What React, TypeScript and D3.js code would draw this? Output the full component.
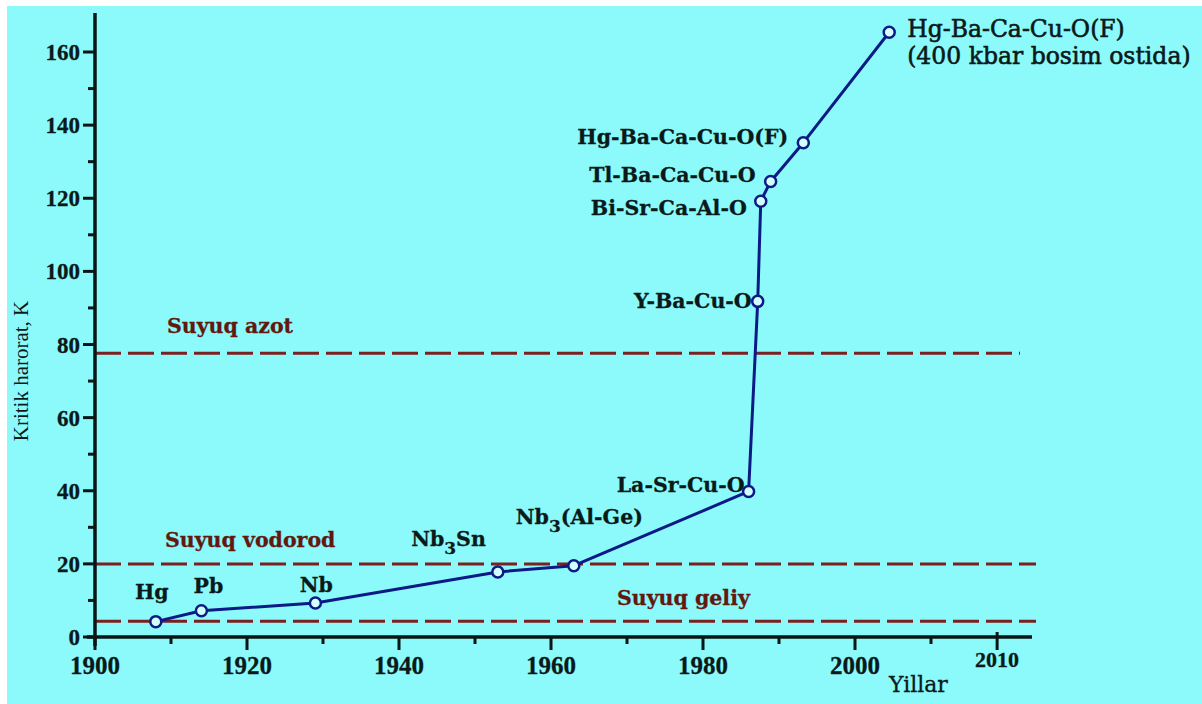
import React from "react";
import * as d3 from "d3";

// ---- data ----
const years = [1908, 1914, 1929, 1953, 1963, 1986, 1987.2, 1987.6, 1988.9, 1993.2, 2004.5];
const tcValues = [4.2, 7.2, 9.3, 17.8, 19.5, 39.8, 91.8, 119.2, 124.6, 135.2, 165.4];
const materials = [
  "Hg",
  "Pb",
  "Nb",
  "Nb_3Sn",
  "Nb_3(Al-Ge)",
  "La-Sr-Cu-O",
  "Y-Ba-Cu-O",
  "Bi-Sr-Ca-Al-O",
  "Tl-Ba-Ca-Cu-O",
  "Hg-Ba-Ca-Cu-O(F)",
  "Hg-Ba-Ca-Cu-O(F)|(400 kbar bosim ostida)",
];
const coolantNames = ["Suyuq azot", "Suyuq vodorod", "Suyuq geliy"];
const coolantTemps = [77.6, 20, 4.3];
const xTickValues = [1900, 1920, 1940, 1960, 1980, 2000, 2018.7];
const xTickLabels = ["1900", "1920", "1940", "1960", "1980", "2000", "2010"];
const xMinorTicks = [1910, 1930, 1950, 1970, 1990, 2010];
const yTickValues = [0, 20, 40, 60, 80, 100, 120, 140, 160];
const yMinorTicks = [10, 30, 50, 70, 90, 110, 130, 150];
const yTitle = "Kritik harorat, K";
const xTitle = "Yillar";

// ---- layout (positions / styles) ----
const W = 1202;
const H = 704;
const BG = "#8cfafa";
const AXIS = "#081616";
const LINE = "#0c1a86";
const DASH = "#7a2020";
const DASH_TEXT = "#62180f";
const TEXT = "#0a1a1a";
const LABEL_FONT = "'DejaVu Serif', serif";
const TICK_FONT = "'Liberation Serif', 'Times New Roman', serif";

// label offsets relative to each point: [dx, dy, anchor]
const labelLayout: [number, number, string][] = [
  [-4, -23, "middle"],
  [7, -18, "middle"],
  [1, -11, "middle"],
  [-12, -26, "end"],
  [-58, -42, "start"],
  [-4, 1, "end"],
  [-6, 7, "end"],
  [-14, 14, "end"],
  [-15, 1, "end"],
  [-15, 1, "end"],
  [18, 5, "start"],
];
const coolantLabelLayout: [number, number][] = [
  [167, -20],
  [165, -17],
  [617, -16],
];
const coolantEnd = [1020, 1036, 1036];

function renderName(name: string) {
  // "_3" => subscript 3
  const parts = name.split(/(_\d)/);
  return parts.map((p, i) =>
    p.startsWith("_") ? (
      <tspan key={i} dy={8} fontSize={17}>
        {p.slice(1)}
      </tspan>
    ) : i > 0 && parts[i - 1].startsWith("_") ? (
      <tspan key={i} dy={-8}>
        {p}
      </tspan>
    ) : (
      <tspan key={i}>{p}</tspan>
    )
  );
}

export default function App() {
  const x = d3.scaleLinear().domain([1900, 2000]).range([95, 855]);
  const y = d3.scaleLinear().domain([0, 160]).range([637, 52]);
  const x0 = x(1900);
  const y0 = y(0);

  const line = d3
    .line<number>()
    .x((_, i) => x(years[i]))
    .y((d) => y(d));

  return (
    <svg
      width={W}
      height={H}
      style={{ position: "absolute", left: 0, top: 0, display: "block" }}
    >
      <rect x={0} y={0} width={W} height={H} fill="#ffffff" />
      <rect x={7} y={6} width={W - 7} height={H - 6} fill={BG} />

      {/* coolant reference lines */}
      {coolantTemps.map((t, i) => (
        <g key={"c" + i}>
          <line
            x1={x0}
            x2={coolantEnd[i]}
            y1={y(t)}
            y2={y(t)}
            stroke={DASH}
            strokeWidth={3}
            strokeDasharray="26 7"
          />
          <text
            x={coolantLabelLayout[i][0]}
            y={y(t) + coolantLabelLayout[i][1]}
            fontFamily={LABEL_FONT}
            fontWeight="bold"
            fontSize={20.5}
            fill={DASH_TEXT}
            stroke={DASH_TEXT}
            strokeWidth={0.3}
          >
            {coolantNames[i]}
          </text>
        </g>
      ))}

      {/* axes */}
      <line x1={x0} x2={x0} y1={13} y2={646} stroke={AXIS} strokeWidth={3.5} />
      <line x1={87} x2={1032} y1={y0} y2={y0} stroke={AXIS} strokeWidth={3.5} />

      {yTickValues.map((v) => (
        <g key={"yt" + v}>
          <line x1={x0 - 12} x2={x0} y1={y(v)} y2={y(v)} stroke={AXIS} strokeWidth={3} />
          <text
            x={x0 - 15}
            y={y(v)}
            dy="0.35em"
            textAnchor="end"
            fontFamily={TICK_FONT}
            fontWeight="bold"
            fontSize={23}
            fill={TEXT}
            stroke={TEXT}
            strokeWidth={0.3}
          >
            {v}
          </text>
        </g>
      ))}
      {yMinorTicks.map((v) => (
        <line key={"ym" + v} x1={x0 - 7} x2={x0} y1={y(v)} y2={y(v)} stroke={AXIS} strokeWidth={3} />
      ))}

      {xTickValues.map((v, i) => (
        <g key={"xt" + i}>
          <line x1={x(v)} x2={x(v)} y1={y0 - (i === 6 ? 5 : 0)} y2={y0 + 13} stroke={AXIS} strokeWidth={3} />
          <text
            x={x(v)}
            y={i === 6 ? 667 : 674}
            textAnchor="middle"
            fontFamily={TICK_FONT}
            fontWeight="bold"
            fontSize={i === 6 ? 22 : 25}
            fill={TEXT}
            stroke={TEXT}
            strokeWidth={0.3}
          >
            {xTickLabels[i]}
          </text>
        </g>
      ))}
      {xMinorTicks.map((v) => (
        <line key={"xm" + v} x1={x(v)} x2={x(v)} y1={y0} y2={y0 + 7} stroke={AXIS} strokeWidth={3} />
      ))}

      {/* axis titles */}
      <text
        transform={`translate(28, 371) rotate(-90)`}
        textAnchor="middle"
        fontFamily={TICK_FONT}
        fontSize={21}
        fill={TEXT}
      >
        {yTitle}
      </text>
      <text x={889} y={692} fontFamily={LABEL_FONT} fontSize={22} fill={TEXT} stroke={TEXT} strokeWidth={0.3}>
        {xTitle}
      </text>

      {/* series */}
      <path d={line(tcValues) || ""} fill="none" stroke={LINE} strokeWidth={3} strokeLinejoin="round" />
      {tcValues.map((v, i) => (
        <circle
          key={"p" + i}
          cx={x(years[i])}
          cy={y(v)}
          r={5.5}
          fill="#d2ffff"
          stroke={LINE}
          strokeWidth={2.5}
        />
      ))}

      {/* point labels */}
      {materials.map((m, i) => {
        const [dx, dy, anchor] = labelLayout[i];
        const px = x(years[i]) + dx;
        const py = y(tcValues[i]) + dy;
        if (m.includes("|")) {
          const lines = m.split("|");
          return (
            <text
              key={"l" + i}
              x={px}
              y={py}
              textAnchor={anchor as any}
              fontFamily={LABEL_FONT}
              fontSize={23.5}
              fill={TEXT}
              stroke={TEXT}
              strokeWidth={0.6}
            >
              {lines.map((ln, k) => (
                <tspan key={k} x={px} dy={k === 0 ? 0 : 27}>
                  {ln}
                </tspan>
              ))}
            </text>
          );
        }
        return (
          <text
            key={"l" + i}
            x={px}
            y={py}
            textAnchor={anchor as any}
            fontFamily={LABEL_FONT}
            fontWeight="bold"
            fontSize={20.5}
            fill={TEXT}
            stroke={TEXT}
            strokeWidth={0.3}
          >
            {renderName(m)}
          </text>
        );
      })}
    </svg>
  );
}
